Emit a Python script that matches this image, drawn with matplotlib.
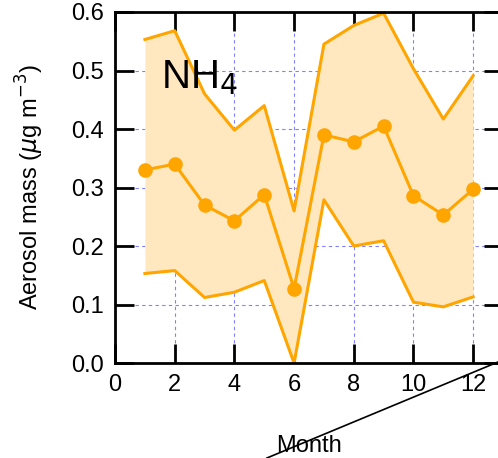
import numpy as np
import matplotlib.pyplot as plt
from matplotlib.lines import Line2D

plt.rcParams['font.family'] = ['Liberation Sans', 'DejaVu Sans']

months = [1, 2, 3, 4, 5, 6, 7, 8, 9, 10, 11, 12]
nh4_mean = [0.330, 0.340, 0.270, 0.243, 0.288, 0.127, 0.390, 0.378, 0.405, 0.286, 0.253, 0.297]
nh4_upper = [0.553, 0.568, 0.460, 0.398, 0.440, 0.260, 0.545, 0.577, 0.598, 0.503, 0.417, 0.491]
nh4_lower = [0.153, 0.158, 0.112, 0.121, 0.141, 0.000, 0.279, 0.200, 0.209, 0.104, 0.096, 0.113]

fig = plt.figure(figsize=(4.98, 4.58), dpi=100)
ax = fig.add_axes([0.231, 0.2074, 0.779, 0.7664])
ax.set_axisbelow(True)

ax.grid(True, color='#8080ff', linestyle=(0, (3, 3)), linewidth=0.8)
# opaque fill so the grid stays hidden underneath
ax.fill_between(months, nh4_lower, nh4_upper, color='#ffe8c0', linewidth=0, zorder=1)
ax.plot(months, nh4_upper, color='orange', linewidth=2.2, zorder=2)
ax.plot(months, nh4_lower, color='orange', linewidth=2.2, zorder=2)
ax.plot(months, nh4_mean, color='orange', linewidth=2.2, marker='o', markersize=9.5, zorder=3)

ax.set_xlim(0, 13)
ax.set_ylim(0, 0.6)
ax.set_xticks([0, 2, 4, 6, 8, 10, 12])
ax.set_yticks([0.0, 0.1, 0.2, 0.3, 0.4, 0.5, 0.6])
ax.set_yticklabels(['0.0', '0.1', '0.2', '0.3', '0.4', '0.5', '0.6'])
ax.tick_params(direction='in', length=14, width=2, labelsize=17,
               top=True, right=True, pad=8)
for s in ax.spines.values():
    s.set_linewidth(2)
    s.set_zorder(5)

ax.set_xlabel('Month', fontsize=17, labelpad=28)
ax.set_ylabel(r'Aerosol mass ($\mu$g m$^{-3}$)', fontsize=17, labelpad=18)
ax.text(1.55, 0.47, r'NH$_4$', fontsize=29)

fig.add_artist(Line2D([1.0, 0.536], [0.2096, 0.0], color='black', linewidth=1.2,
                      transform=fig.transFigure))

fig.savefig('out.png', dpi=100)
